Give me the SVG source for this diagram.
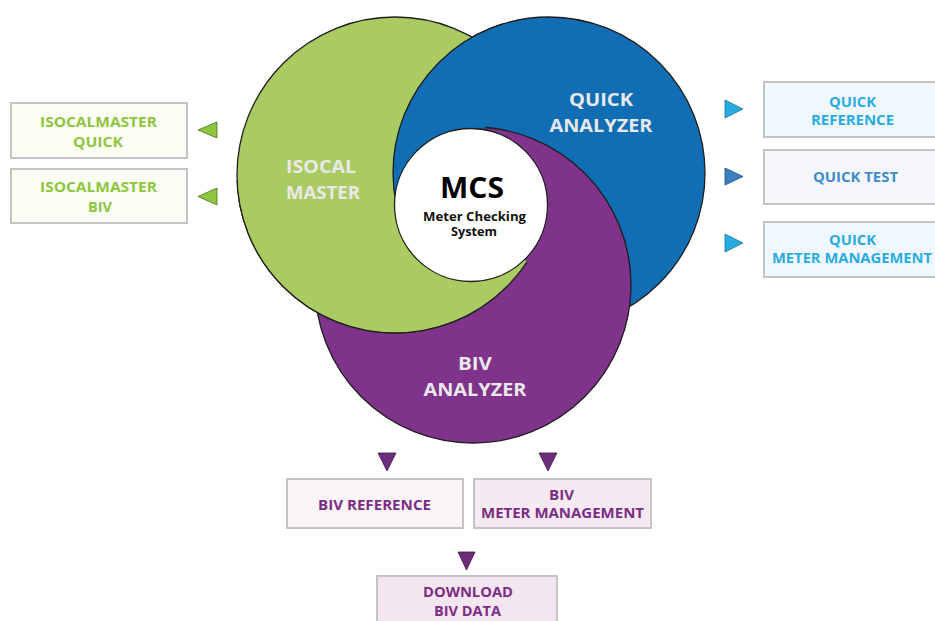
<svg xmlns="http://www.w3.org/2000/svg" width="935" height="621" viewBox="0 0 935 621">
<style>
text{font-family:"Open Sans","Noto Sans","Liberation Sans",sans-serif;font-weight:700;text-anchor:middle}
.circ{stroke:#1e1e1e;stroke-width:1.3}
.blue{fill:#116eb5}
.purple{fill:#80338b}
.green{fill:#a9cb62}
.lbl{fill:#e9e9e9;font-size:17px}
.box{stroke:#c4c4c4;stroke-width:2}
.bt{font-size:14px}
.g{fill:#8dc63f}
.b{fill:#29abe2}
.b2{fill:#3f8ccb}
.p{fill:#7b2d84}
.tg{fill:#8dc63f;stroke:#4d6e22;stroke-width:0.8}
.tb{fill:#29abe2;stroke:#1a6f9c;stroke-width:0.8}
.tb2{fill:#3c80c0;stroke:#1f4f7e;stroke-width:0.8}
.tp{fill:#6e2c7d;stroke:#3d1546;stroke-width:0.8}
</style>
<defs>
<clipPath id="outBlue"><path clip-rule="evenodd" d="M-10 -10H945V631H-10Z M393 173a156 156 0 1 0 312 0a156 156 0 1 0 -312 0Z"/></clipPath>
<clipPath id="wedgeUL"><polygon points="471,205 -10,154 -10,-10 510,-10"/></clipPath>
<clipPath id="wedgeLL"><polygon points="471,205 889,631 -10,631 -10,154"/></clipPath>
</defs>

<g id="quick-analyzer">
<circle class="circ blue" cx="549" cy="173" r="156"/>
</g>
<g id="biv-analyzer">
<circle class="circ purple" cx="473" cy="285" r="158"/>
</g>
<g id="isocal-master">
<circle class="circ green" cx="395" cy="175" r="158" clip-path="url(#outBlue)"/>
</g>
<g id="overlap-swirl">
<circle class="circ blue" cx="549" cy="173" r="156" clip-path="url(#wedgeUL)"/>
<circle class="circ green" cx="395" cy="175" r="158" clip-path="url(#wedgeLL)"/>
</g>
<g id="labels-circles">
<text class="lbl" x="601" y="106" textLength="64" lengthAdjust="spacingAndGlyphs">QUICK</text>
<text class="lbl" x="601" y="132" textLength="103" lengthAdjust="spacingAndGlyphs">ANALYZER</text>
<text class="lbl" x="321" y="173" textLength="70" lengthAdjust="spacingAndGlyphs">ISOCAL</text>
<text class="lbl" x="323" y="199" textLength="74" lengthAdjust="spacingAndGlyphs">MASTER</text>
<text class="lbl" x="475" y="370" textLength="34" lengthAdjust="spacingAndGlyphs">BIV</text>
<text class="lbl" x="475" y="396" textLength="103" lengthAdjust="spacingAndGlyphs">ANALYZER</text>
</g>
<g id="mcs">
<circle cx="471" cy="205" r="76.5" fill="#ffffff" stroke="#1e1e1e" stroke-width="1.3"/>
<text x="472" y="198" style="font-size:28px;fill:#000" textLength="64" lengthAdjust="spacingAndGlyphs">MCS</text>
<text x="474.5" y="221" style="font-size:12px;fill:#111" textLength="103" lengthAdjust="spacingAndGlyphs">Meter Checking</text>
<text x="474" y="236" style="font-size:12px;fill:#111" textLength="46" lengthAdjust="spacingAndGlyphs">System</text>
</g>

<g id="connectors">
<polygon class="tg" points="217,122 217,138 198,130"/>
<polygon class="tg" points="217,188 217,205 198,196.5"/>
<polygon class="tb" points="725,100 725,118 743,109"/>
<polygon class="tb2" points="725,168 725,185 743,176.5"/>
<polygon class="tb" points="725,234 725,252 743,243"/>
<polygon class="tp" points="378,453 396,453 387,471"/>
<polygon class="tp" points="539,453 557,453 548,471"/>
<polygon class="tp" points="458,552 475,552 466.5,570"/>
</g>

<g id="isocalmaster-quick">
<rect class="box" x="11" y="103" width="176" height="55" fill="#fbfcf4"/>
<text class="bt g" x="98.5" y="127" textLength="117" lengthAdjust="spacingAndGlyphs">ISOCALMASTER</text>
<text class="bt g" x="98" y="147" textLength="50" lengthAdjust="spacingAndGlyphs">QUICK</text>
</g>
<g id="isocalmaster-biv">
<rect class="box" x="11" y="169" width="176" height="54" fill="#fbfcf4"/>
<text class="bt g" x="98.5" y="192" textLength="117" lengthAdjust="spacingAndGlyphs">ISOCALMASTER</text>
<text class="bt g" x="100" y="212" textLength="24" lengthAdjust="spacingAndGlyphs">BIV</text>
</g>

<g id="quick-reference">
<rect class="box" x="764" y="82" width="180" height="55" fill="#f1f8fd"/>
<text class="bt b" x="852.5" y="107" textLength="47" lengthAdjust="spacingAndGlyphs">QUICK</text>
<text class="bt b" x="852.5" y="125" textLength="83" lengthAdjust="spacingAndGlyphs">REFERENCE</text>
</g>
<g id="quick-test">
<rect class="box" x="764" y="150" width="180" height="54" fill="#f4f6f9"/>
<text class="bt b2" x="855.5" y="182" textLength="85" lengthAdjust="spacingAndGlyphs">QUICK TEST</text>
</g>
<g id="quick-meter-management">
<rect class="box" x="764" y="222" width="180" height="55" fill="#f1f8fd"/>
<text class="bt b" x="852.5" y="245" textLength="47" lengthAdjust="spacingAndGlyphs">QUICK</text>
<text class="bt b" x="852" y="263" textLength="160" lengthAdjust="spacingAndGlyphs">METER MANAGEMENT</text>
</g>

<g id="biv-reference">
<rect class="box" x="287" y="479" width="176" height="49" fill="#faf3f8"/>
<text class="bt p" x="374.5" y="510" textLength="113" lengthAdjust="spacingAndGlyphs">BIV REFERENCE</text>
</g>
<g id="biv-meter-management">
<rect class="box" x="474" y="479" width="177" height="49" fill="#f5eaf2"/>
<text class="bt p" x="561.5" y="500" textLength="25" lengthAdjust="spacingAndGlyphs">BIV</text>
<text class="bt p" x="562.5" y="518" textLength="163" lengthAdjust="spacingAndGlyphs">METER MANAGEMENT</text>
</g>
<g id="download-biv-data">
<rect class="box" x="377" y="576" width="180" height="50" fill="#f3e6f0"/>
<text class="bt p" x="468" y="597" textLength="90" lengthAdjust="spacingAndGlyphs">DOWNLOAD</text>
<text class="bt p" x="467.5" y="616" textLength="67" lengthAdjust="spacingAndGlyphs">BIV DATA</text>
</g>
</svg>
